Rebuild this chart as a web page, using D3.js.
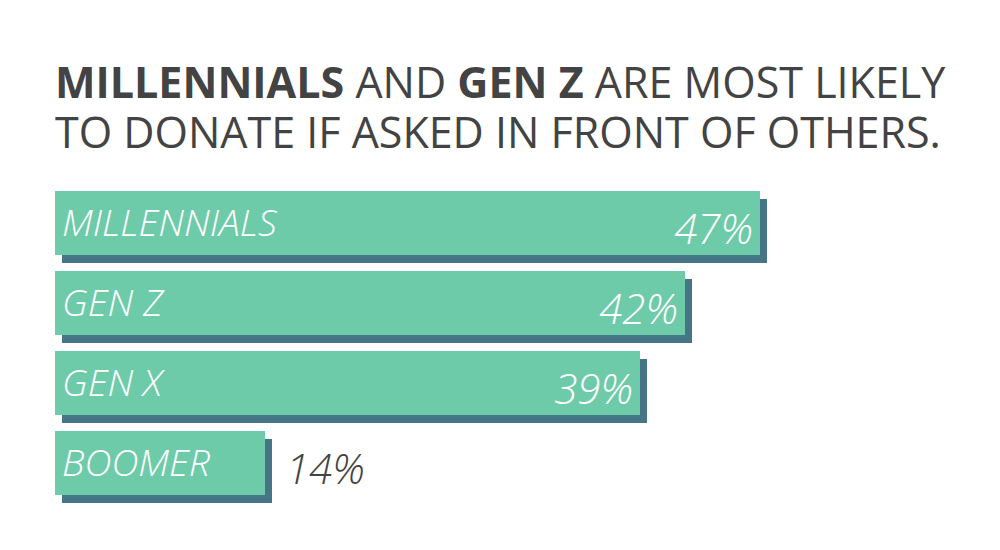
<!DOCTYPE html>
<html>
<head>
<meta charset="utf-8">
<script src="https://cdn.jsdelivr.net/npm/d3@7"></script>
<style>
  html, body { margin: 0; padding: 0; background: #fff; }
  svg text { font-family: "Open Sans", sans-serif; }
</style>
</head>
<body>
<div id="chart"></div>
<script>
// data
var generations = ['MILLENNIALS', 'GEN Z', 'GEN X', 'BOOMER']
var shares = [47, 42, 39, 14]
var titleLine1 = [['MILLENNIALS', true], [' AND ', false], ['GEN Z', true], [' ARE MOST LIKELY', false]]
var titleLine2 = 'TO DONATE IF ASKED IN FRONT OF OTHERS.'

var width = 1000
var height = 550

var svg = d3.select('#chart').append('svg')
  .attr('width', width)
  .attr('height', height)

// title
var title = svg.append('text')
  .attr('x', 55)
  .attr('y', 98)
  .attr('fill', '#434343')
  .style('font-size', '43px')
title.selectAll('tspan')
  .data(titleLine1)
  .enter().append('tspan')
  .attr('font-weight', d => d[1] ? 700 : 400)
  .style('white-space', 'pre')
  .text(d => d[0])
svg.append('text')
  .attr('x', 55)
  .attr('y', 148)
  .attr('fill', '#434343')
  .style('font-size', '43px')
  .text(titleLine2)

var x = d3.scaleLinear().domain([0, 50]).range([55, 805])
var y = d3.scaleBand().domain(generations).range([191, 495]).paddingInner(0.2).paddingOuter(0)

var rows = generations.map(function (g, i) { return { name: g, value: shares[i] } })

var bar = svg.append('g').selectAll('g')
  .data(rows)
  .enter().append('g')

// shadow
bar.append('rect')
  .attr('x', x(0) + 7)
  .attr('y', d => y(d.name) + 8)
  .attr('width', d => x(d.value) - x(0))
  .attr('height', y.bandwidth())
  .attr('fill', '#467585')

bar.append('rect')
  .attr('x', x(0))
  .attr('y', d => y(d.name))
  .attr('width', d => x(d.value) - x(0))
  .attr('height', y.bandwidth())
  .attr('fill', '#6ecbaa')

bar.append('text')
  .attr('x', x(0) + 7)
  .attr('y', d => y(d.name) + y.bandwidth() - 19)
  .attr('fill', '#fff')
  .style('font-size', '37.5px')
  .style('font-style', 'italic')
  .style('font-weight', 300)
  .text(d => d.name)

bar.append('text')
  .attr('x', d => d.value > 20 ? x(d.value) - 7 : x(d.value) + 21)
  .attr('y', d => y(d.name) + y.bandwidth() - 11)
  .attr('text-anchor', d => d.value > 20 ? 'end' : 'start')
  .attr('fill', d => d.value > 20 ? '#fff' : '#434343')
  .style('font-size', '42px')
  .style('font-style', 'italic')
  .style('font-weight', 300)
  .text(d => d.value + '%')
</script>
</body>
</html>
